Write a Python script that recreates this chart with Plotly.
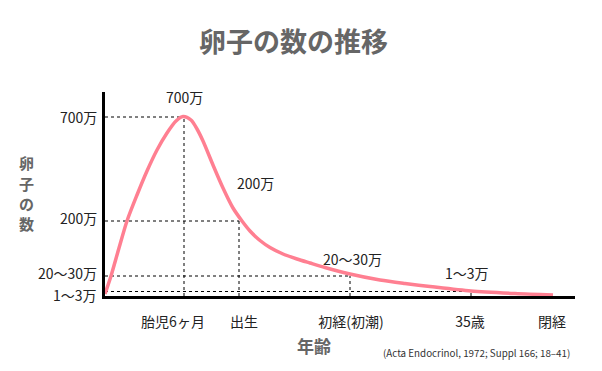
import plotly.graph_objects as go

# Schematic chart: x = age axis (schematic units), y = oocyte count (schematic units)
curve_x = [0, 6, 14, 22, 32, 42, 52, 62, 71, 78, 86, 92, 98, 108, 118, 128, 137, 145, 155, 165, 178, 192, 205, 220, 245, 275, 300, 325, 366, 410, 448]
curve_y = [2, 20, 48, 75, 101, 125, 146, 163, 175, 179.5, 176, 167, 155, 131, 108, 88, 75, 65, 55.5, 48.5, 42, 37, 33, 28.5, 22, 16, 12.5, 9.5, 5, 2.5, 1]

milestone_x = [79, 134, 245, 366, 449]
milestone_labels = ["胎児6ヶ月", "出生", "初経(初潮)", "35歳", "閉経"]
milestone_label_x = [68, 139, 246, 365, 447]

level_y = [179, 75, 20, 4.5]
level_labels = ["700万", "200万", "20〜30万", "1〜3万"]
level_label_y = [179, 78, 23, 1]

# point labels on the curve
point_x = [79, 134, 245, 366]
point_labels = ["700万", "200万", "20〜30万", "1〜3万"]
point_label_x = [79, 150, 247, 362]
point_label_y = [199, 113, 37, 23]

ytitle_chars = ["卵", "子", "の", "数"]
ytitle_px = [162, 183, 203, 223]

FONT = "Noto Sans CJK JP"
PINK = "#FF7F91"
GRAY = "#666666"
TXT = "#222222"

OFF = 8  # page offset of the figure in the browser window
W, H = 602 - OFF, 371 - OFF
L, R, T, B = 105, 575, 92, 296  # plot area in window pixels


def px_x(p):
    return (p - L) / (R - L)


def px_y(p):
    return (B - p) / (B - T)


fig = go.Figure()
fig.add_trace(go.Scatter(
    x=curve_x, y=curve_y, mode="lines",
    line=dict(color=PINK, width=3.5, shape="spline", smoothing=0.8),
    cliponaxis=False, hoverinfo="skip", showlegend=False,
))

shapes = []
for px, ly in zip(point_x, level_y):
    shapes.append(dict(type="line", xref="x", yref="y", x0=0, x1=px, y0=ly, y1=ly,
                       line=dict(color="black", width=1, dash="dot"), layer="below"))
    shapes.append(dict(type="line", xref="x", yref="y", x0=px, x1=px, y0=0, y1=ly,
                       line=dict(color="black", width=1, dash="dot"), layer="below"))

annotations = []
for tx, ty, t in zip(point_label_x, point_label_y, point_labels):
    annotations.append(dict(x=tx, y=ty, xref="x", yref="y", text=t, showarrow=False,
                            font=dict(family=FONT, size=14, color=TXT)))

# y tick labels (nudged apart like the reference)
for ty, t in zip(level_label_y, level_labels):
    annotations.append(dict(x=px_x(99), y=ty, xref="paper", yref="y", text=t, showarrow=False,
                            xanchor="right", yanchor="middle",
                            font=dict(family=FONT, size=14, color=TXT)))

for c, py in zip(ytitle_chars, ytitle_px):
    annotations.append(dict(x=px_x(26), y=px_y(py), xref="paper", yref="paper", text="<b>" + c + "</b>",
                            showarrow=False, font=dict(family=FONT, size=15, color=GRAY),
                            xanchor="center", yanchor="middle", borderpad=0))

annotations.append(dict(x=px_x(314), y=px_y(345), xref="paper", yref="paper",
                        text="<b>年齢</b>", showarrow=False,
                        font=dict(family=FONT, size=17, color=GRAY),
                        xanchor="center", yanchor="middle"))
annotations.append(dict(x=px_x(572), y=px_y(353), xref="paper", yref="paper",
                        text="(Acta Endocrinol, 1972; Suppl 166; 18–41)", showarrow=False,
                        font=dict(family=FONT, size=9.8, color="#333333"),
                        xanchor="right", yanchor="middle"))
annotations.append(dict(x=px_x(293), y=px_y(40), xref="paper", yref="paper",
                        text="<b>卵子の数の推移</b>", showarrow=False,
                        font=dict(family=FONT, size=27, color=GRAY),
                        xanchor="center", yanchor="middle"))

fig.update_layout(
    width=W, height=H,
    margin=dict(l=L - OFF, r=W - (R - OFF), t=T - OFF, b=H - (B - OFF), autoexpand=False),
    paper_bgcolor="white", plot_bgcolor="white",
    shapes=shapes, annotations=annotations,
    showlegend=False,
    xaxis=dict(range=[0, 470], showgrid=False, zeroline=False, showline=True, automargin=False,
               linecolor="black", linewidth=3, tickvals=milestone_label_x, ticktext=milestone_labels,
               ticks="", ticklabelstandoff=11,
               tickfont=dict(family=FONT, size=14, color=TXT)),
    yaxis=dict(range=[0, 204], showgrid=False, zeroline=False, showline=True, automargin=False,
               linecolor="black", linewidth=3, showticklabels=False),
)

fig.write_html("out.html")
